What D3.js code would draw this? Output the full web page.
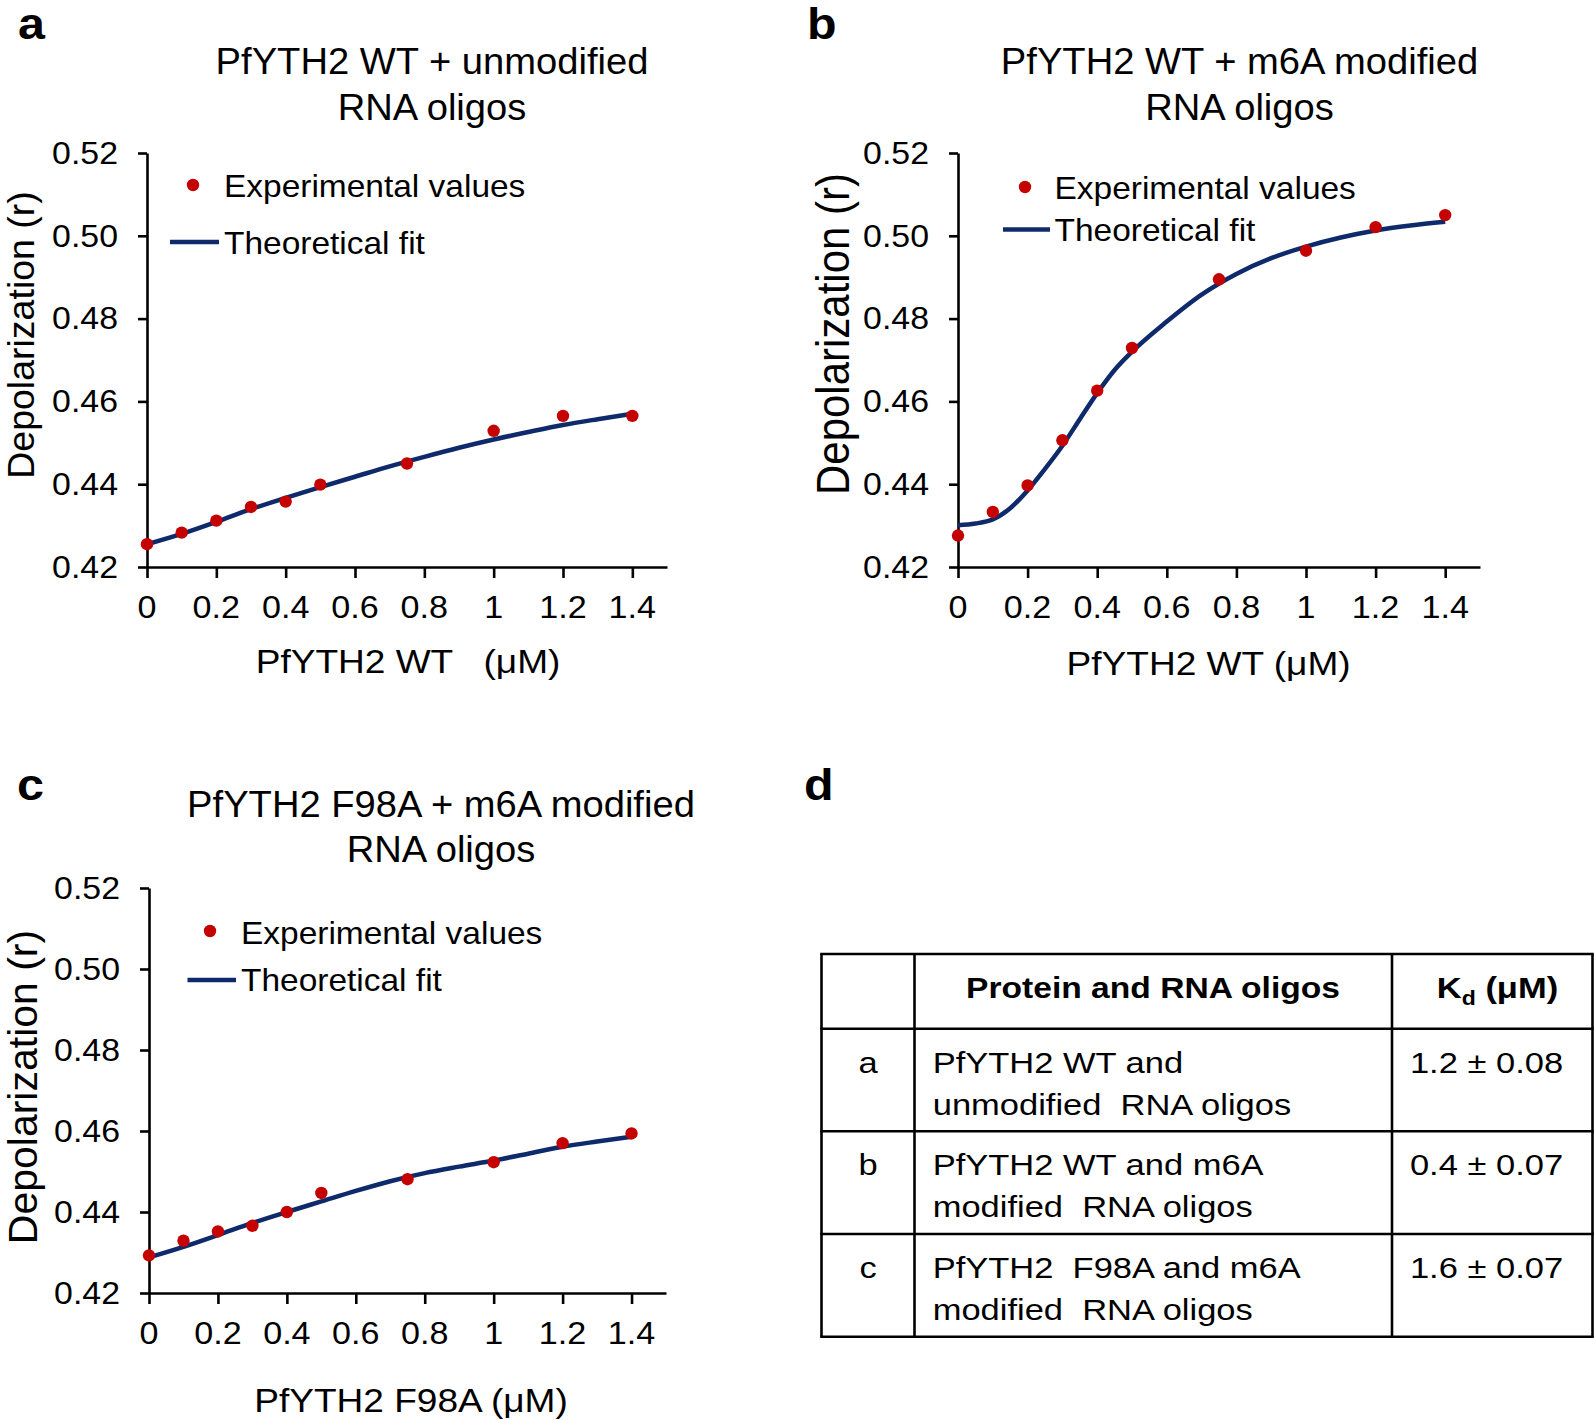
<!DOCTYPE html>
<html><head><meta charset="utf-8">
<script src="https://cdn.jsdelivr.net/npm/d3@7"></script>
<style>html,body{margin:0;padding:0;background:#fff}svg{display:block;background:#fff}text{font-family:"Liberation Sans",Arial,sans-serif;fill:#000}</style>
</head><body><svg id="chart" width="1594" height="1420"></svg>
<script>
// ---------------- DATA ----------------
const concentrations = [0, 0.1, 0.2, 0.3, 0.4, 0.5, 0.75, 1, 1.2, 1.4];
const expA = [0.4255, 0.4283, 0.4312, 0.4345, 0.4358, 0.4399, 0.4450, 0.4529, 0.4565, 0.4565];
const expB = [0.4276, 0.4333, 0.4397, 0.4506, 0.4626, 0.4729, 0.4895, 0.4964, 0.5021, 0.5050];
const expC = [0.4293, 0.4329, 0.4352, 0.4366, 0.4400, 0.4447, 0.4481, 0.4523, 0.4570, 0.4594];

const fitGridA = [0, 0.1, 0.2, 0.3, 0.4, 0.5, 0.6, 0.7, 0.8, 0.9, 1.0, 1.1, 1.2, 1.3, 1.4];
const fitA = [0.4255, 0.4280, 0.4309, 0.4340, 0.4367, 0.4393, 0.4418, 0.4443, 0.4466, 0.4488, 0.4508, 0.4526, 0.4543, 0.4557, 0.4570];
const fitGridB = [0, 0.05, 0.1, 0.15, 0.2, 0.25, 0.3, 0.35, 0.4, 0.45, 0.5, 0.6, 0.7, 0.8, 0.9, 1.0, 1.1, 1.2, 1.3, 1.4];
const fitB = [0.4301, 0.4305, 0.4315, 0.4342, 0.4385, 0.4437, 0.4493, 0.4557, 0.4620, 0.4676, 0.4720, 0.4793, 0.4858, 0.4908, 0.4946, 0.4974, 0.4996, 0.5013, 0.5025, 0.5034];
const fitGridC = [0, 0.1, 0.2, 0.3, 0.4, 0.5, 0.6, 0.7, 0.8, 0.9, 1.0, 1.1, 1.2, 1.3, 1.4];
const fitC = [0.4288, 0.4314, 0.4343, 0.4373, 0.4400, 0.4426, 0.4452, 0.4476, 0.4496, 0.4512, 0.4527, 0.4544, 0.4561, 0.4574, 0.4586];

const xTicks = [0, 0.2, 0.4, 0.6, 0.8, 1, 1.2, 1.4];
const yTicks = [0.42, 0.44, 0.46, 0.48, 0.50, 0.52];
const xDomain = [0, 1.5];
const yDomain = [0.42, 0.52];

const panelLetters = ["a", "b", "c", "d"];
const titleLine1 = ["PfYTH2 WT + unmodified", "PfYTH2 WT + m6A modified", "PfYTH2 F98A + m6A modified"];
const titleLine2 = ["RNA oligos", "RNA oligos", "RNA oligos"];
const xAxisTitles = ["PfYTH2 WT   (\u03bcM)", "PfYTH2 WT (\u03bcM)", "PfYTH2 F98A (\u03bcM)"];
const yAxisTitle = "Depolarization (r)";
const legendLabels = ["Experimental values", "Theoretical fit"];

const tableHeader = ["", "Protein and RNA oligos", "K", "d", " (\u03bcM)"];
const tableRowIds = ["a", "b", "c"];
const tableDescLine1 = ["PfYTH2 WT and", "PfYTH2 WT and m6A", "PfYTH2  F98A and m6A"];
const tableDescLine2 = ["unmodified  RNA oligos", "modified  RNA oligos", "modified  RNA oligos"];
const kdValues = ["1.2 \u00b1 0.08", "0.4 \u00b1 0.07", "1.6 \u00b1 0.07"];

// ---------------- STYLE / LAYOUT ----------------
const DOT = "#c50000", LINE = "#0f2a6b";
const svg = d3.select("#chart");

function txt(parent, x, y, s, o = {}) {
  return parent.append("text")
    .attr("transform", `translate(${x},${y}) scale(${o.sx || 1},1)` + (o.rot ? ` rotate(${o.rot})` : ""))
    .attr("font-size", o.size || 30)
    .attr("font-weight", o.weight || "normal")
    .attr("text-anchor", o.anchor || "start")
    .style("white-space", "pre")
    .text(s);
}

const panels = [
  { exp: expA, fx: fitGridA, fy: fitA, x0: 147, x1: 667, yT: 153, yB: 567,
    tX: 432, tY1: 73.5, tY2: 119.5, lX: 18, lY: 39,
    yTX: 34, yTY: 335, yTSize: 37.5, yTSx: 1.0,
    xTX: 408, xTY: 673,
    dot: [193, 185], legX: 224, leg1Y: 197, leg2Y: 254, legLine: [170, 219, 242] },
  { exp: expB, fx: fitGridB, fy: fitB, x0: 958, x1: 1480, yT: 153, yB: 567,
    tX: 1239.5, tY1: 73.5, tY2: 119.5, lX: 807, lY: 39,
    yTX: 849, yTY: 334, yTSize: 42, yTSx: 1.12,
    xTX: 1208.6, xTY: 675,
    dot: [1025, 187], legX: 1054.5, leg1Y: 199, leg2Y: 241, legLine: [1003, 1050, 229.5] },
  { exp: expC, fx: fitGridC, fy: fitC, x0: 149, x1: 666, yT: 888, yB: 1293,
    tX: 441, tY1: 817, tY2: 862, lX: 17, lY: 800,
    yTX: 37, yTY: 1087, yTSize: 41, yTSx: 0.98,
    xTX: 411, xTY: 1412,
    dot: [210, 931], legX: 241, leg1Y: 944, leg2Y: 991, legLine: [187.5, 236, 980] }
];

panels.forEach((p, i) => {
  const g = svg.append("g");
  const x = d3.scaleLinear().domain(xDomain).range([p.x0, p.x1]);
  const y = d3.scaleLinear().domain(yDomain).range([p.yB, p.yT]);

  // axes
  const ax = g.append("g").attr("transform", `translate(0,${p.yB})`)
    .call(d3.axisBottom(x).tickValues(xTicks).tickSize(11).tickSizeOuter(0).tickFormat(""));
  const ay = g.append("g").attr("transform", `translate(${p.x0},0)`)
    .call(d3.axisLeft(y).tickValues(yTicks).tickSize(9).tickSizeOuter(0).tickFormat(""));
  [ax, ay].forEach(a => {
    a.selectAll("path").attr("stroke", "#000").attr("stroke-width", 2.6);
    a.selectAll("line").attr("stroke", "#000").attr("stroke-width", 2.6);
  });

  // tick labels
  xTicks.forEach(v => txt(g, x(v), p.yB + 51, d3.format("")(v), { size: 30.5, sx: 1.12, anchor: "middle" }));
  yTicks.forEach(v => txt(g, p.x0 - 29, y(v) + 10.8, d3.format(".2f")(v), { size: 30.5, sx: 1.11, anchor: "end" }));

  // fit line
  const line = d3.line().x((d, k) => x(p.fx[k])).y(d => y(d)).curve(d3.curveMonotoneX);
  g.append("path").datum(p.fy).attr("d", line).attr("fill", "none")
    .attr("stroke", LINE).attr("stroke-width", 4.5);

  // experimental dots
  g.selectAll("circle.pt").data(p.exp).enter().append("circle")
    .attr("cx", (d, k) => x(concentrations[k])).attr("cy", d => y(d))
    .attr("r", 6.2).attr("fill", DOT);

  // legend
  g.append("circle").attr("cx", p.dot[0]).attr("cy", p.dot[1]).attr("r", 6.2).attr("fill", DOT);
  g.append("line").attr("x1", p.legLine[0]).attr("x2", p.legLine[1])
    .attr("y1", p.legLine[2]).attr("y2", p.legLine[2]).attr("stroke", LINE).attr("stroke-width", 4.5);
  txt(g, p.legX, p.leg1Y, legendLabels[0], { size: 31, sx: 1.08 });
  txt(g, p.legX, p.leg2Y, legendLabels[1], { size: 31, sx: 1.08 });

  // titles
  txt(g, p.tX, p.tY1, titleLine1[i], { size: 36, sx: 1.06, anchor: "middle" });
  txt(g, p.tX, p.tY2, titleLine2[i], { size: 36, sx: 1.06, anchor: "middle" });
  txt(g, p.lX, p.lY, panelLetters[i], { size: 44, sx: 1.1, weight: "bold" });

  // axis titles
  txt(g, p.xTX, p.xTY, xAxisTitles[i], { size: 34, sx: 1.09, anchor: "middle" });
  txt(g, p.yTX, p.yTY, yAxisTitle, { size: p.yTSize, sx: p.yTSx, anchor: "middle", rot: -90 });
});

// ---------------- TABLE (panel d) ----------------
const tg = svg.append("g");
txt(tg, 804, 800, panelLetters[3], { size: 44, sx: 1.1, weight: "bold" });

const colX = [821.5, 914.5, 1392, 1592.5];
const rowY = [954, 1028.7, 1131.3, 1234, 1336.7];
rowY.forEach(yy => tg.append("line").attr("x1", colX[0] - 1.3).attr("x2", colX[3] + 1.3)
  .attr("y1", yy).attr("y2", yy).attr("stroke", "#000").attr("stroke-width", 2.6));
colX.forEach(xx => tg.append("line").attr("x1", xx).attr("x2", xx)
  .attr("y1", rowY[0]).attr("y2", rowY[4]).attr("stroke", "#000").attr("stroke-width", 2.6));

const TS = 30, TSX = 1.15;
txt(tg, 1153, 998, tableHeader[1], { size: TS, sx: 1.12, weight: "bold", anchor: "middle" });
// Kd header with subscript
const kd = tg.append("text").attr("transform", `translate(1497.5,998) scale(${TSX},1)`)
  .attr("font-size", TS).attr("font-weight", "bold").attr("text-anchor", "middle").style("white-space", "pre");
kd.append("tspan").text(tableHeader[2]);
kd.append("tspan").attr("font-size", 20).attr("dy", 7).text(tableHeader[3]);
kd.append("tspan").attr("dy", -7).text(tableHeader[4]);

const lineBase = [1073, 1175, 1278];
tableRowIds.forEach((id, i) => {
  txt(tg, 868, lineBase[i], id, { size: TS, sx: TSX, anchor: "middle" });
  txt(tg, 932.7, lineBase[i], tableDescLine1[i], { size: TS, sx: TSX });
  txt(tg, 932.7, lineBase[i] + 42, tableDescLine2[i], { size: TS, sx: TSX });
  txt(tg, 1486.5, lineBase[i], kdValues[i], { size: TS, sx: TSX, anchor: "middle" });
});
</script>
</body></html>
